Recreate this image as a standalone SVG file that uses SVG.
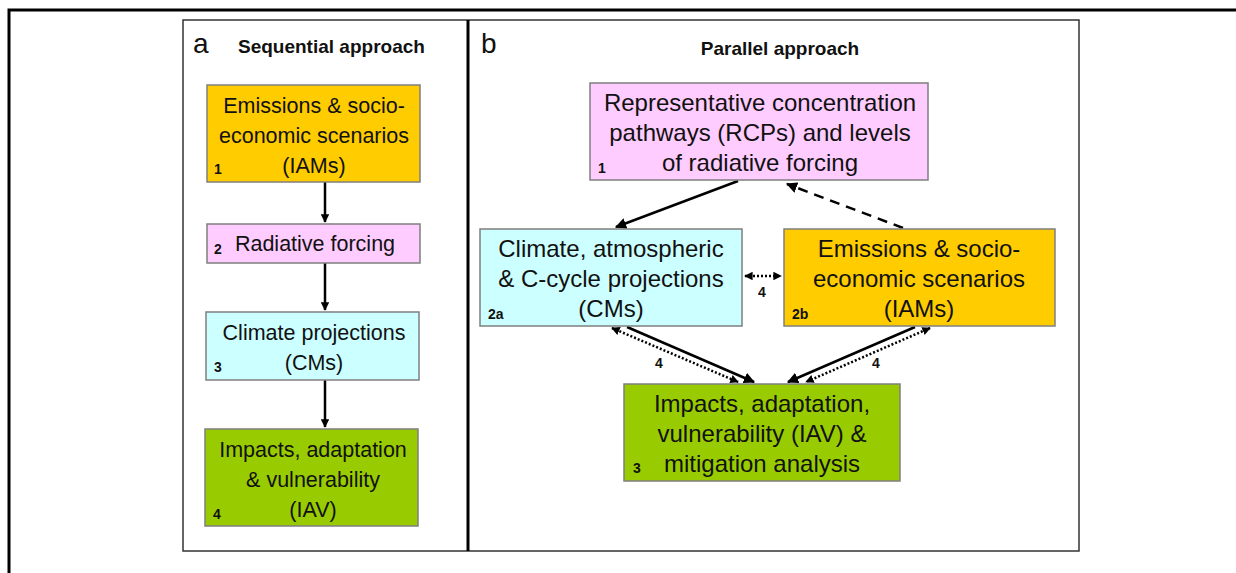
<svg xmlns="http://www.w3.org/2000/svg" width="1236" height="573" viewBox="0 0 1236 573">
<style>
.box{stroke:#7f7f7f;stroke-width:1.5}
.or{fill:#FFCC00}.pk{fill:#FFCCFF}.cy{fill:#CCFFFF}.gr{fill:#99CC00}
.t{font-family:"Liberation Sans",Arial,sans-serif;font-size:21.5px;fill:#111;text-anchor:middle}
.T{font-family:"Liberation Sans",Arial,sans-serif;font-size:24px;fill:#111;text-anchor:middle}
.n{font-family:"Liberation Sans",Arial,sans-serif;font-size:14px;font-weight:bold;fill:#111}
.h{font-family:"Liberation Sans",Arial,sans-serif;font-size:19px;font-weight:bold;fill:#111}
.L{font-family:"Liberation Sans",Arial,sans-serif;font-size:28px;fill:#111}
.s{stroke:#000;stroke-width:2.5;fill:none}
.d{stroke:#000;stroke-width:2.5;fill:none;stroke-dasharray:10 7}
.o{stroke:#000;stroke-width:2.5;fill:none;stroke-dasharray:2 2}
</style>
<defs>
<marker id="ah" viewBox="0 0 10 10" refX="9" refY="5" markerWidth="4.5" markerHeight="4.5" orient="auto-start-reverse" markerUnits="strokeWidth"><path d="M0,0 L10,5 L0,10 z" fill="#000"/></marker>
<marker id="as" viewBox="0 0 10 10" refX="9" refY="5" markerWidth="3.4" markerHeight="3.4" orient="auto-start-reverse" markerUnits="strokeWidth"><path d="M0,0 L10,5 L0,10 z" fill="#000"/></marker>
</defs>
<rect width="1236" height="573" fill="#fff"/>
<g id="frame">
<path d="M9,573 V10 H1236" stroke="#000" stroke-width="3" fill="none"/>
<rect x="183" y="20" width="896" height="531" fill="none" stroke="#333" stroke-width="1.5"/>
<line x1="468" y1="20" x2="468" y2="551" stroke="#000" stroke-width="3"/>
<text class="L" x="193" y="53">a</text>
<text class="h" x="238" y="53">Sequential approach</text>
<text class="L" x="481" y="53">b</text>
<text class="h" x="780" y="55" text-anchor="middle">Parallel approach</text>
</g>
<g id="connectors">
<line class="s" x1="325" y1="182" x2="325" y2="222" marker-end="url(#as)"/>
<line class="s" x1="325" y1="263" x2="325" y2="310" marker-end="url(#as)"/>
<line class="s" x1="325" y1="380" x2="325" y2="427" marker-end="url(#as)"/>
<line class="s" x1="738" y1="181" x2="616" y2="227" marker-end="url(#ah)"/>
<line class="d" x1="903" y1="228" x2="787" y2="184" marker-end="url(#ah)"/>
<line class="o" x1="745" y1="276" x2="781" y2="276" marker-start="url(#as)" marker-end="url(#as)"/>
<line class="s" x1="627" y1="327" x2="754" y2="382" marker-end="url(#ah)"/>
<line class="o" x1="612" y1="328" x2="738" y2="382" marker-start="url(#as)" marker-end="url(#as)"/>
<line class="s" x1="915" y1="327" x2="788" y2="382" marker-end="url(#ah)"/>
<line class="o" x1="930" y1="328" x2="806" y2="382" marker-start="url(#as)" marker-end="url(#as)"/>
<text class="n" x="762" y="297" text-anchor="middle">4</text>
<text class="n" x="659" y="368" text-anchor="middle">4</text>
<text class="n" x="876" y="368" text-anchor="middle">4</text>
</g>
<g id="a1">
<rect class="box or" x="207" y="85" width="213" height="97"/>
<text class="t" x="314" y="113">Emissions &amp; socio-</text>
<text class="t" x="314" y="143">economic scenarios</text>
<text class="t" x="314" y="173">(IAMs)</text>
<text class="n" x="214" y="174">1</text>
</g>
<g id="a2">
<rect class="box pk" x="207" y="224" width="213" height="39"/>
<text class="t" x="315" y="251">Radiative forcing</text>
<text class="n" x="214" y="254">2</text>
</g>
<g id="a3">
<rect class="box cy" x="206" y="312" width="213" height="68"/>
<text class="t" x="314" y="340">Climate projections</text>
<text class="t" x="314" y="370">(CMs)</text>
<text class="n" x="214" y="372">3</text>
</g>
<g id="a4">
<rect class="box gr" x="205" y="429" width="213" height="97"/>
<text class="t" x="313" y="457">Impacts, adaptation</text>
<text class="t" x="313" y="487">&amp; vulnerability</text>
<text class="t" x="313" y="517">(IAV)</text>
<text class="n" x="213" y="519">4</text>
</g>
<g id="b1">
<rect class="box pk" x="590" y="83" width="338" height="97"/>
<text class="T" x="760" y="111">Representative concentration</text>
<text class="T" x="760" y="141">pathways (RCPs) and levels</text>
<text class="T" x="760" y="171">of radiative forcing</text>
<text class="n" x="598" y="173">1</text>
</g>
<g id="b2a">
<rect class="box cy" x="480" y="229" width="262" height="97"/>
<text class="T" x="611" y="257">Climate, atmospheric</text>
<text class="T" x="611" y="287">&amp; C-cycle projections</text>
<text class="T" x="611" y="317">(CMs)</text>
<text class="n" x="488" y="319">2a</text>
</g>
<g id="b2b">
<rect class="box or" x="784" y="229" width="271" height="97"/>
<text class="T" x="919" y="257">Emissions &amp; socio-</text>
<text class="T" x="919" y="287">economic scenarios</text>
<text class="T" x="919" y="317">(IAMs)</text>
<text class="n" x="792" y="319">2b</text>
</g>
<g id="b3">
<rect class="box gr" x="624" y="384" width="276" height="97"/>
<text class="T" x="762" y="412">Impacts, adaptation,</text>
<text class="T" x="762" y="442">vulnerability (IAV) &amp;</text>
<text class="T" x="762" y="472">mitigation analysis</text>
<text class="n" x="633" y="473">3</text>
</g>
</svg>
